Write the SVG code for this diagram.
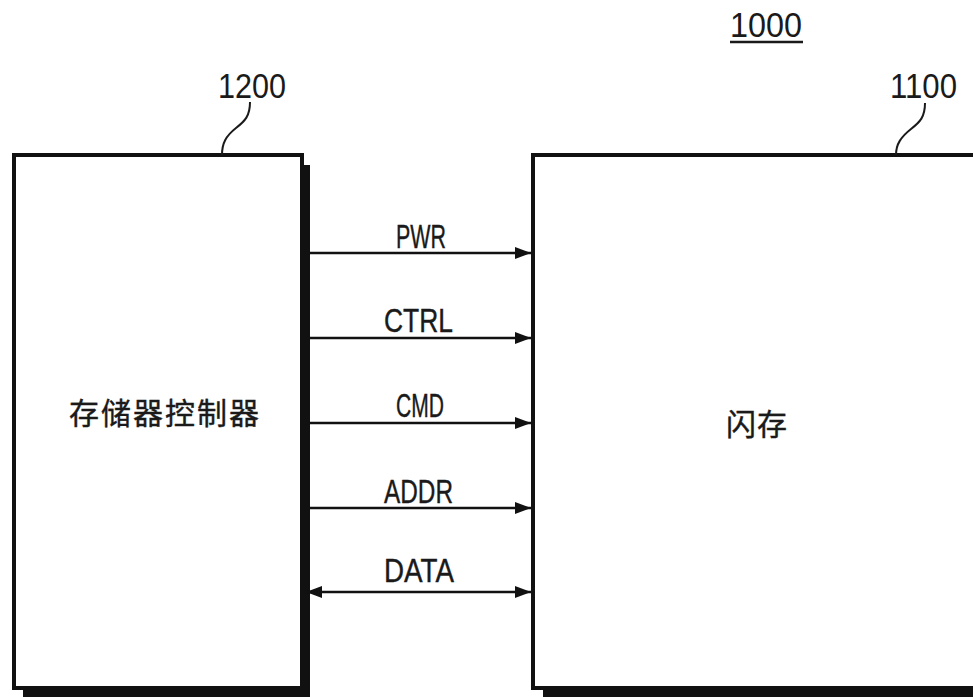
<svg xmlns="http://www.w3.org/2000/svg" width="973" height="697" viewBox="0 0 973 697">
  <defs>
    <style>
      .box { fill: #ffffff; stroke: #111111; stroke-width: 4; }
      .shadow { fill: #111111; stroke: none; }
      .lbl { font-family: "Liberation Sans", Arial, sans-serif; font-size: 33px; fill: #1a1a1a; stroke: #1a1a1a; stroke-width: 0.4; }
      .num { font-family: "Liberation Sans", Arial, sans-serif; font-size: 35px; fill: #1a1a1a; }
      .cjk { font-family: "Liberation Sans", "Noto Sans CJK SC", sans-serif; font-size: 30px; fill: #1a1a1a; stroke: #1a1a1a; stroke-width: 0.4; }
      .leader { fill: none; stroke: #1a1a1a; stroke-width: 2; }
      .wire { fill: none; stroke: #111111; stroke-width: 2.5; }
    </style>
    <marker id="ah" viewBox="0 0 16 12" refX="16" refY="6" markerWidth="16" markerHeight="12" markerUnits="userSpaceOnUse" orient="auto-start-reverse">
      <path d="M0,0 L16,6 L0,12 Z" fill="#111111"/>
    </marker>
  </defs>
  <rect x="0" y="0" width="973" height="697" fill="#ffffff"/>

  <g id="label-1000">
    <text class="num" x="730" y="37" textLength="72" lengthAdjust="spacingAndGlyphs">1000</text>
    <line x1="730" y1="42" x2="803" y2="42" stroke="#1a1a1a" stroke-width="2.5"/>
  </g>

  <g id="node-1200">
    <path class="shadow" d="M304,165 H310 V697 H23 V690 H304 Z"/>
    <rect class="box" x="14" y="155" width="288" height="533"/>
    <text class="cjk" x="165" y="424" text-anchor="middle" letter-spacing="2">存储器控制器</text>
    <text class="num" x="218" y="98" textLength="68" lengthAdjust="spacingAndGlyphs">1200</text>
    <path class="leader" d="M250,102 C250,116 245,121 236,128 C226,136 222,143 222,155"/>
  </g>

  <g id="node-1100">
    <path class="shadow" d="M543,690 H973 V697 H543 Z"/>
    <rect class="box" x="533" y="155" width="460" height="533"/>
    <text class="cjk" x="757" y="435" text-anchor="middle" letter-spacing="1">闪存</text>
    <text class="num" x="890" y="98" textLength="67" lengthAdjust="spacingAndGlyphs">1100</text>
    <path class="leader" d="M925,103 C925,117 920,122 911,129 C901,137 896,144 896,155"/>
  </g>

  <g id="connectors">
    <line class="wire" x1="306" y1="253" x2="531" y2="253" marker-end="url(#ah)"/>
    <text class="lbl" x="396" y="248" textLength="50" lengthAdjust="spacingAndGlyphs">PWR</text>

    <line class="wire" x1="306" y1="338" x2="531" y2="338" marker-end="url(#ah)"/>
    <text class="lbl" x="384" y="332" textLength="69" lengthAdjust="spacingAndGlyphs">CTRL</text>

    <line class="wire" x1="306" y1="423" x2="531" y2="423" marker-end="url(#ah)"/>
    <text class="lbl" x="396" y="417" textLength="48" lengthAdjust="spacingAndGlyphs">CMD</text>

    <line class="wire" x1="306" y1="508" x2="531" y2="508" marker-end="url(#ah)"/>
    <text class="lbl" x="384" y="503" textLength="69" lengthAdjust="spacingAndGlyphs">ADDR</text>

    <line class="wire" x1="306" y1="592" x2="531" y2="592" marker-start="url(#ah)" marker-end="url(#ah)"/>
    <text class="lbl" x="384" y="582" textLength="70" lengthAdjust="spacingAndGlyphs">DATA</text>
  </g>
</svg>
